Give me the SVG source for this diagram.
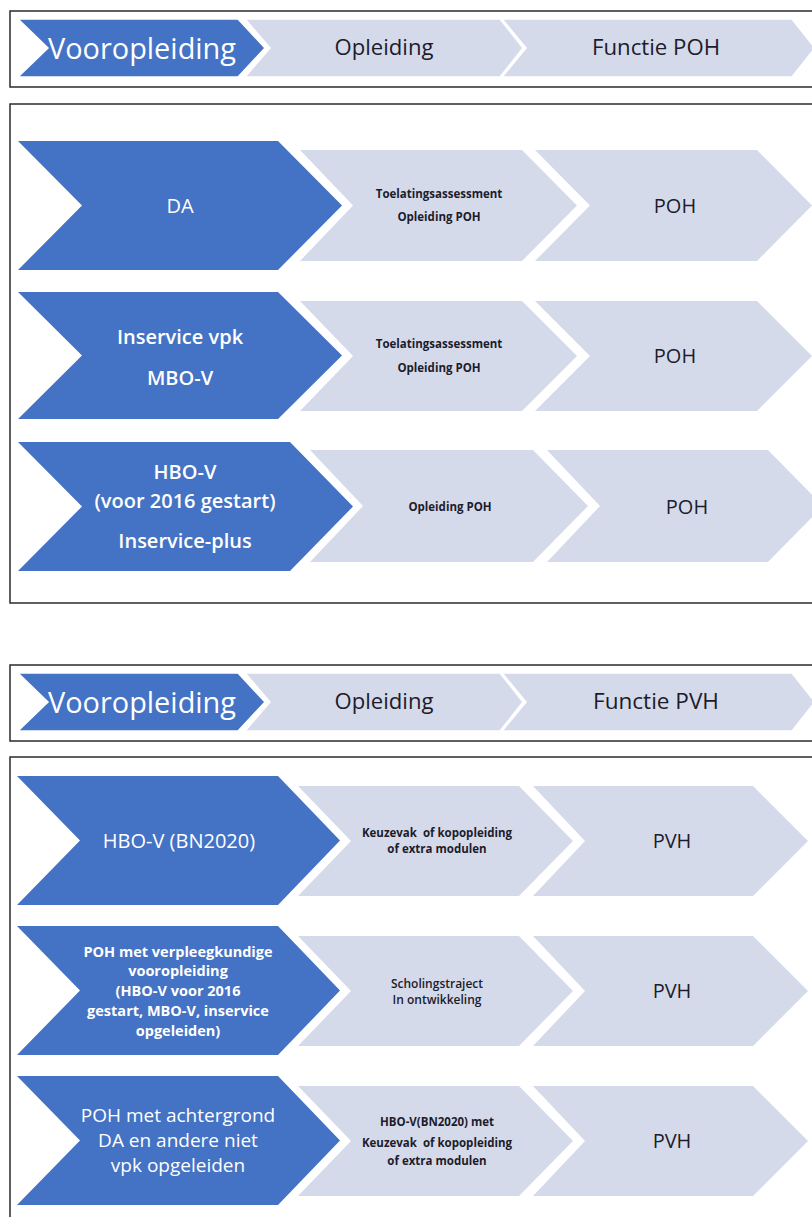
<svg xmlns="http://www.w3.org/2000/svg" width="812" height="1217" viewBox="0 0 812 1217">
<style>
.frame{fill:none;stroke:#2b2b2b;stroke-width:1.5}
.blue{fill:#4472C4}
.light{fill:#D5DAEB}
.hlight{fill:#D5DAEB;stroke:#ffffff;stroke-width:1.5}
.hblue{fill:#4472C4;stroke:#ffffff;stroke-width:1.5}
text{font-family:"Open Sans","Liberation Sans",sans-serif;text-anchor:middle;dominant-baseline:central}
.wt{fill:#ffffff}
.dk{fill:#1c1c2a}
.big{font-size:20px}
.sm{font-size:11.5px;font-weight:bold}
.hd{font-size:21px}
</style>
<rect width="812" height="1217" fill="#ffffff"/>
<!-- header 1 -->
<g id="header1">
<rect class="frame" x="10" y="11" width="900" height="76"/>
<polygon class="hblue" points="18,19 238,19 265,48 238,77 18,77 48,48"/>
<polygon class="hlight" points="245,19 500,19 523,48 500,77 245,77 270,48"/>
<polygon class="hlight" points="502,19 792,19 815,48 792,77 502,77 526,48"/>
<text class="wt" x="142" y="47" font-size="30" textLength="188" lengthAdjust="spacingAndGlyphs">Vooropleiding</text>
<text class="dk hd" x="384" y="47" textLength="99" lengthAdjust="spacingAndGlyphs">Opleiding</text>
<text class="dk hd" x="656" y="47" textLength="128" lengthAdjust="spacingAndGlyphs">Functie POH</text>
</g>
<rect class="frame" x="10" y="104" width="900" height="499"/>
<g id="row1">
<polygon class="blue" points="18,141 278,141 342,205.5 278,270 18,270 82,205.5"/>
<polygon class="light" points="300,150 522,150 577,205.5 522,261 300,261 353,205.5"/>
<polygon class="light" points="535,150 757,150 812,205.5 757,261 535,261 590,205.5"/>
<text class="wt big" x="180" y="205">DA</text>
<text class="dk sm" x="439" y="193">Toelatingsassessment</text>
<text class="dk sm" x="439" y="216">Opleiding POH</text>
<text class="dk big" x="675" y="205">POH</text>
</g>
<g id="row2">
<polygon class="blue" points="18,292 278,292 342,355.5 278,419 18,419 82,355.5"/>
<polygon class="light" points="300,301 522,301 577,356 522,411 300,411 353,356"/>
<polygon class="light" points="535,301 757,301 812,356 757,411 535,411 590,356"/>
<text class="wt big" x="180" y="336" font-weight="600">Inservice vpk</text>
<text class="wt big" x="180" y="377" font-weight="600">MBO-V</text>
<text class="dk sm" x="439" y="343">Toelatingsassessment</text>
<text class="dk sm" x="439" y="367">Opleiding POH</text>
<text class="dk big" x="675" y="355">POH</text>
</g>
<g id="row3">
<polygon class="blue" points="18,442 290,442 353,506.5 290,571 18,571 82,506.5"/>
<polygon class="light" points="310,450 533,450 588,506 533,562 310,562 363,506"/>
<polygon class="light" points="547,450 768,450 823,506 768,562 547,562 600,506"/>
<text class="wt big" x="185" y="471" font-weight="600">HBO-V</text>
<text class="wt big" x="185" y="500" font-weight="600">(voor 2016 gestart)</text>
<text class="wt big" x="185" y="540" font-weight="600">Inservice-plus</text>
<text class="dk sm" x="450" y="506">Opleiding POH</text>
<text class="dk big" x="687" y="506">POH</text>
</g>
<!-- header 2 -->
<g id="header2">
<rect class="frame" x="10" y="665" width="900" height="76"/>
<polygon class="hblue" points="18,673 238,673 265,702 238,731 18,731 48,702"/>
<polygon class="hlight" points="245,673 500,673 523,702 500,731 245,731 270,702"/>
<polygon class="hlight" points="502,673 792,673 815,702 792,731 502,731 526,702"/>
<text class="wt" x="142" y="701" font-size="30" textLength="188" lengthAdjust="spacingAndGlyphs">Vooropleiding</text>
<text class="dk hd" x="384" y="701" textLength="99" lengthAdjust="spacingAndGlyphs">Opleiding</text>
<text class="dk hd" x="656" y="701" textLength="126" lengthAdjust="spacingAndGlyphs">Functie PVH</text>
</g>
<rect class="frame" x="10" y="757" width="900" height="600"/>
<g id="row4">
<polygon class="blue" points="17,776 278,776 340,840.5 278,905 17,905 80,840.5"/>
<polygon class="light" points="298,786 519,786 573,841 519,896 298,896 351,841"/>
<polygon class="light" points="533,786 753,786 808,841 753,896 533,896 585,841"/>
<text class="wt big" x="179" y="840">HBO-V (BN2020)</text>
<text class="dk sm" x="437" y="832" xml:space="preserve">Keuzevak  of kopopleiding</text>
<text class="dk sm" x="437" y="848">of extra modulen</text>
<text class="dk big" x="672" y="840">PVH</text>
</g>
<g id="row5">
<polygon class="blue" points="17,926 278,926 340,990.5 278,1055 17,1055 80,990.5"/>
<polygon class="light" points="298,936 519,936 573,991 519,1046 298,1046 351,991"/>
<polygon class="light" points="533,936 753,936 808,991 753,1046 533,1046 585,991"/>
<text class="wt" x="178" y="951" font-size="14.5" font-weight="bold">POH met verpleegkundige</text>
<text class="wt" x="178" y="970" font-size="14.5" font-weight="bold">vooropleiding</text>
<text class="wt" x="178" y="990" font-size="14.5" font-weight="bold">(HBO-V voor 2016</text>
<text class="wt" x="178" y="1010" font-size="14.5" font-weight="bold">gestart, MBO-V, inservice</text>
<text class="wt" x="178" y="1030" font-size="14.5" font-weight="bold">opgeleiden)</text>
<text class="dk" x="437" y="983" font-size="12" font-weight="600">Scholingstraject</text>
<text class="dk" x="437" y="999" font-size="12" font-weight="600">In ontwikkeling</text>
<text class="dk big" x="672" y="990">PVH</text>
</g>
<g id="row6">
<polygon class="blue" points="17,1076 278,1076 340,1140.5 278,1205 17,1205 80,1140.5"/>
<polygon class="light" points="298,1086 519,1086 573,1141 519,1196 298,1196 351,1141"/>
<polygon class="light" points="533,1086 753,1086 808,1141 753,1196 533,1196 585,1141"/>
<text class="wt" x="178" y="1115" font-size="19">POH met achtergrond</text>
<text class="wt" x="178" y="1140" font-size="19">DA en andere niet</text>
<text class="wt" x="178" y="1165" font-size="19">vpk opgeleiden</text>
<text class="dk sm" x="437" y="1121">HBO-V(BN2020) met</text>
<text class="dk sm" x="437" y="1142" xml:space="preserve">Keuzevak  of kopopleiding</text>
<text class="dk sm" x="437" y="1160">of extra modulen</text>
<text class="dk big" x="672" y="1140">PVH</text>
</g>
</svg>
